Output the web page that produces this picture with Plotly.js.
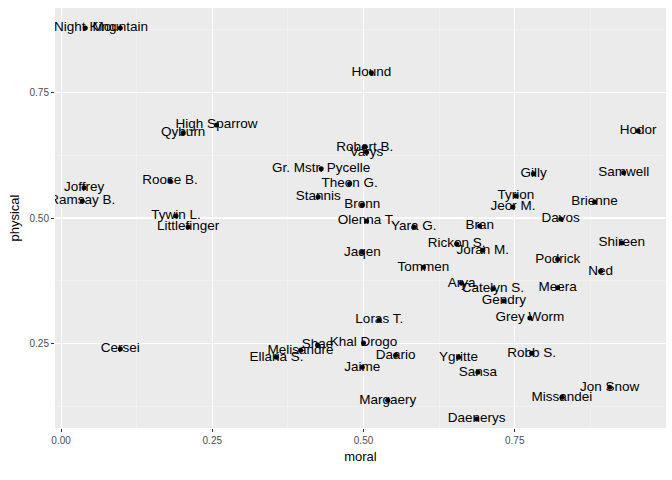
<!DOCTYPE html>
<html>
<head>
<meta charset="utf-8">
<script src="https://cdn.plot.ly/plotly-3.0.1.min.js"></script>
<style>body{margin:0}#plot{width:672px;height:480px}</style>
</head>
<body>
<div id="plot"></div>
<script>
const names = ["Night King","Mountain","Hound","High Sparrow","Qyburn","Hodor","Robert B.","Varys",
  "Gr. Mstr. Pycelle","Theon G.","Stannis","Bronn","Gilly","Samwell","Tyrion","Jeor M.","Brienne","Davos",
  "Joffrey","Ramsay B.","Roose B.","Tywin L.","Littlefinger","Olenna T.","Yara G.","Bran","Jaqen",
  "Rickon S.","Joran M.","Tommen","Shireen","Podrick","Ned","Arya","Catelyn S.","Gendry","Meera",
  "Grey Worm","Loras T.","Khal Drogo","Shae","Melisandre","Ellaria S.","Daario","Jaime","Ygritte",
  "Sansa","Robb S.","Jon Snow","Missandei","Margaery","Daenerys","Cersei"];
const moral = [0.040,0.098,0.513,0.257,0.202,0.954,0.502,0.505,
  0.430,0.477,0.425,0.498,0.781,0.930,0.752,0.747,0.882,0.826,
  0.038,0.035,0.180,0.190,0.210,0.505,0.583,0.692,0.498,
  0.654,0.697,0.599,0.927,0.821,0.892,0.662,0.714,0.732,0.821,
  0.775,0.526,0.500,0.424,0.396,0.356,0.553,0.498,0.657,
  0.689,0.778,0.907,0.828,0.540,0.687,0.098];
const physical = [0.878,0.878,0.789,0.685,0.669,0.673,0.641,0.631,
  0.598,0.568,0.542,0.526,0.588,0.590,0.544,0.522,0.532,0.498,
  0.560,0.534,0.574,0.504,0.482,0.494,0.482,0.484,0.432,
  0.448,0.436,0.402,0.450,0.418,0.394,0.370,0.359,0.335,0.361,
  0.301,0.297,0.251,0.247,0.237,0.223,0.227,0.203,0.223,
  0.193,0.231,0.163,0.143,0.137,0.100,0.239];

const font = "Liberation Sans, Arial";
const axisStyle = {
  showgrid: true, gridcolor: "#ffffff", gridwidth: 1.1, zeroline: false,
  ticks: "outside", ticklen: 3, tickcolor: "#333333",
  tickfont: { family: font, size: 10, color: "#4d4d4d" },
  minor: { showgrid: true, gridcolor: "#f5f5f5", gridwidth: 0.5 },
};

Plotly.newPlot(document.querySelector("#plot"), [
  {
    x: moral, y: physical, type: "scatter", mode: "markers+text",
    text: names, textposition: "middle center",
    marker: { color: "#000000", size: 5 },
    textfont: { family: font, size: 13.5, color: "#000000" },
    hoverinfo: "none",
  },
], {
  width: 672, height: 480,
  margin: { l: 55, r: 6, t: 8, b: 52 },
  paper_bgcolor: "#ffffff", plot_bgcolor: "#ebebeb",
  showlegend: false,
  xaxis: { ...axisStyle, range: [-0.01, 1.0], tickvals: [0, 0.25, 0.5, 0.75],
    ticktext: ["0.00","0.25","0.50","0.75"], minor: { ...axisStyle.minor, tickvals: [0.125,0.375,0.625,0.875] },
    title: { text: "moral", font: { family: font, size: 13, color: "#000" }, standoff: 6 } },
  yaxis: { ...axisStyle, range: [0.082, 0.918], tickvals: [0.25, 0.5, 0.75],
    ticktext: ["0.25","0.50","0.75"], minor: { ...axisStyle.minor, tickvals: [0.125,0.375,0.625,0.875] },
    title: { text: "physical", font: { family: font, size: 13, color: "#000" }, standoff: 6 } },
}, { displayModeBar: false, staticPlot: true });
</script>
</body>
</html>
